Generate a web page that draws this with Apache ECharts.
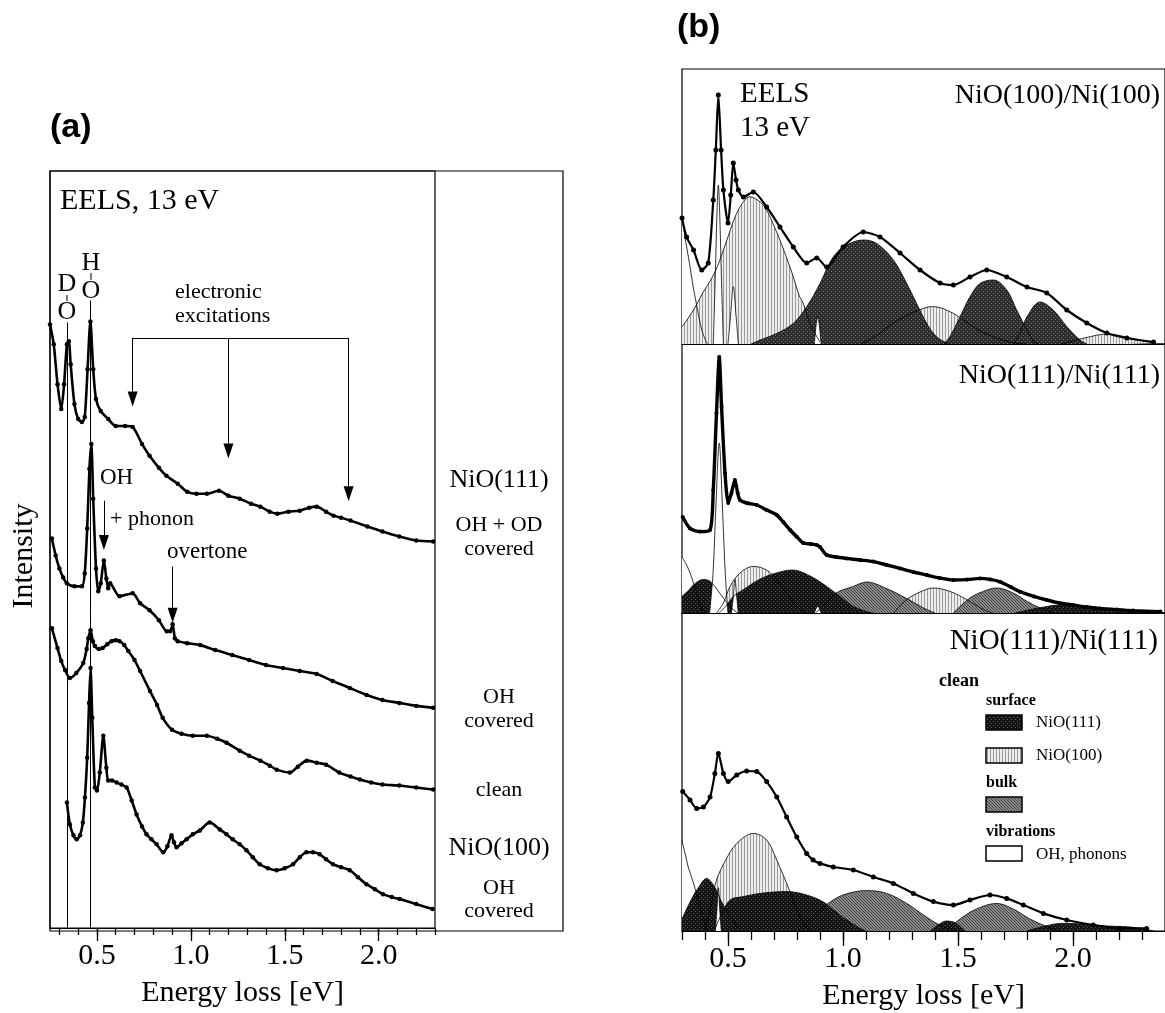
<!DOCTYPE html>
<html>
<head>
<meta charset="utf-8">
<script src="https://cdn.jsdelivr.net/npm/echarts@6/dist/echarts.min.js"></script>
<style>
  html, body { margin: 0; padding: 0; background: #fff; }
  #main { width: 1165px; height: 1013px; }
</style>
</head>
<body>
<div id="main"></div>
<script>
// ---- panel (a): EELS spectra, [energy loss eV, intensity arb. units] ----
var ohOdNiO111 = [[0.25,151.5],[0.27,146.5],[0.29,136.5],[0.31,130.25],[0.325,136.5],[0.34,146.5],[0.35,147.25],[0.36,141.5],[0.38,131.5],[0.40,127.75],[0.42,127],[0.435,128.25],[0.45,140.25],[0.465,152.25],[0.48,140.25],[0.495,132.75],[0.52,129.75],[0.56,127.75],[0.60,126],[0.65,126],[0.69,125.75],[0.74,121.5],[0.78,118.5],[0.83,115.5],[0.87,113.5],[0.93,111.5],[0.98,109.5],[1.03,109],[1.085,109],[1.15,109.75],[1.20,108.5],[1.26,107.75],[1.32,106.5],[1.37,105.75],[1.42,104.5],[1.46,104],[1.52,104.5],[1.58,104.75],[1.63,105.5],[1.67,105.75],[1.72,104.5],[1.76,103.5],[1.80,103],[1.85,102.25],[1.94,100.75],[2.02,99.5],[2.11,98.25],[2.20,97.25],[2.29,97]];
var ohNiO111 = [[0.26,97.75],[0.28,93.5],[0.30,90.25],[0.32,88],[0.34,86.5],[0.38,85.75],[0.42,85.75],[0.435,89],[0.448,100.25],[0.46,115.25],[0.47,121.5],[0.48,107.75],[0.495,90.25],[0.507,84.5],[0.52,86.5],[0.537,92.25],[0.55,87.75],[0.56,85.25],[0.57,86.5],[0.62,83.25],[0.69,84],[0.73,81.5],[0.78,79.75],[0.83,77.25],[0.872,74.5],[0.89,74.5],[0.903,76.25],[0.915,72.75],[0.93,72],[0.98,71.5],[1.05,71],[1.13,69.75],[1.22,68.5],[1.31,67.25],[1.40,66],[1.49,65.25],[1.58,64.5],[1.67,63.75],[1.755,62],[1.846,60.25],[1.936,58.5],[2.02,57.25],[2.11,56.5],[2.20,55.75],[2.29,55.25]];
var cleanNiO111 = [[0.26,75.25],[0.29,70.25],[0.31,67],[0.33,64.75],[0.356,62.75],[0.39,64],[0.427,66.5],[0.445,70],[0.454,72.75],[0.466,74.75],[0.478,72],[0.489,70.75],[0.51,70],[0.53,70.25],[0.555,71.25],[0.578,72],[0.60,72.25],[0.62,72],[0.645,71],[0.667,69.5],[0.70,67.25],[0.73,64.5],[0.782,59.5],[0.82,56],[0.85,52.75],[0.90,49.75],[0.95,48.75],[1.01,48.25],[1.085,48.25],[1.14,47.5],[1.19,46.5],[1.26,44.5],[1.31,43.25],[1.37,42],[1.42,40.75],[1.457,39.75],[1.527,39],[1.57,40.5],[1.617,42],[1.67,41.5],[1.72,41],[1.79,39],[1.85,38],[1.90,37.25],[1.96,36.5],[2.02,36],[2.11,35.75],[2.20,35.25],[2.29,34.75]];
var ohNiO100 = [[0.34,31.5],[0.356,26],[0.375,23.25],[0.392,22.25],[0.41,23.25],[0.425,26.5],[0.436,32.75],[0.448,42.75],[0.458,56.5],[0.466,65.25],[0.475,52.75],[0.489,35.25],[0.50,34.5],[0.515,39],[0.534,48.25],[0.55,40.25],[0.56,37],[0.58,37],[0.605,36.5],[0.63,36],[0.658,35.25],[0.685,32],[0.711,28.5],[0.74,25.5],[0.764,23.5],[0.79,22.25],[0.818,21],[0.853,19],[0.875,20.5],[0.897,23.25],[0.91,21.5],[0.924,20.25],[0.95,21.25],[0.977,22.25],[1.01,23.5],[1.048,24.5],[1.10,26.5],[1.154,24.75],[1.19,23.5],[1.223,22.25],[1.26,21],[1.296,19.5],[1.33,17.75],[1.367,16],[1.41,15],[1.456,14.5],[1.50,15],[1.544,16],[1.58,17.75],[1.615,19],[1.65,19],[1.686,18.5],[1.72,17.25],[1.757,16],[1.80,15.25],[1.846,14.5],[1.89,12.75],[1.935,11],[1.98,9.75],[2.023,8.5],[2.07,7.75],[2.112,7.25],[2.20,6],[2.287,4.75]];

// ---- panel (b): measured spectra and fitted components ----
var b1Meas = [[0.30,63],[0.32,53.5],[0.35,47],[0.386,37],[0.414,40.5],[0.436,72],[0.447,97],[0.458,124.5],[0.47,97],[0.48,77],[0.50,60.5],[0.512,74.5],[0.523,90.5],[0.535,82],[0.545,77],[0.567,73.5],[0.61,76],[0.668,68.5],[0.726,58.5],[0.784,48.5],[0.842,40.5],[0.886,43],[0.929,38.5],[1.00,48.5],[1.088,56],[1.161,53.5],[1.248,45.5],[1.335,37],[1.422,30.5],[1.48,29.5],[1.552,33.5],[1.625,37],[1.712,33.5],[1.80,28.5],[1.886,25.5],[1.973,17],[2.06,10.5],[2.147,5.5],[2.234,3],[2.35,1]];
var b1Tail = [[0.30,63.6],[0.315,52],[0.333,40],[0.348,29],[0.362,20.5],[0.376,12],[0.39,5.5],[0.41,0]];
var b1Oh = [[0.436,0],[0.445,35],[0.452,65],[0.458,79.5],[0.464,65],[0.471,35],[0.48,0]];
var b1Phonon = [[0.50,0],[0.511,14],[0.523,28.7],[0.535,14],[0.545,0]];
var b1Overtone = [[0.875,0],[0.89,13.6],[0.905,0]];
var b1Surf100a = [[0.30,8.5],[0.35,17],[0.39,25.5],[0.43,33],[0.46,40.5],[0.50,53.6],[0.545,67],[0.596,73.6],[0.64,71],[0.668,67],[0.70,59],[0.726,52],[0.755,43],[0.784,33.6],[0.81,24],[0.827,20.5],[0.85,12],[0.87,7],[0.90,1]];
var b1Surf100b = [[1.08,0],[1.15,4.5],[1.22,10.5],[1.31,16],[1.39,18.7],[1.48,15.3],[1.57,8.3],[1.65,3.7],[1.74,0.6],[1.80,0]];
var b1Surf100c = [[1.95,0],[2.05,3],[2.15,5],[2.25,3],[2.35,0.5]];
var b1BulkA = [[0.60,0],[0.64,2],[0.712,5.3],[0.784,10.3],[0.842,18.6],[0.90,30.3],[0.958,43.6],[1.016,49.5],[1.088,52],[1.146,50.3],[1.219,42],[1.277,30.3],[1.32,20.3],[1.364,10.3],[1.407,3.6],[1.46,0]];
var b1BulkB = [[1.44,0],[1.465,3.7],[1.509,13.6],[1.552,23.6],[1.596,30.3],[1.654,32],[1.712,27],[1.755,17],[1.80,7],[1.83,1],[1.85,0]];
var b1BulkC = [[1.74,0],[1.77,5.5],[1.80,13.6],[1.857,21],[1.914,17],[1.973,8.7],[2.03,2],[2.06,0]];

var b2Meas = [[0.303,48],[0.335,42.3],[0.378,40.7],[0.422,41.5],[0.436,61.5],[0.45,100],[0.462,128],[0.472,103],[0.487,70],[0.501,55],[0.515,60],[0.53,66.5],[0.542,60],[0.552,56.5],[0.581,55],[0.625,54],[0.668,51.5],[0.712,49],[0.74,45.5],[0.77,41.5],[0.80,38],[0.827,35],[0.86,34.5],[0.886,34],[0.90,33],[0.929,29],[0.97,28],[1.016,27.3],[1.075,26.5],[1.132,25.7],[1.19,24],[1.248,22.3],[1.305,20.5],[1.364,19],[1.42,17.5],[1.48,16.5],[1.54,16.7],[1.596,17.3],[1.64,16.8],[1.683,15.6],[1.73,13],[1.77,10.6],[1.83,8.3],[1.886,6.5],[1.94,5],[2.0,4],[2.06,3],[2.117,2.3],[2.19,1.7],[2.262,1.2],[2.38,0.7]];
var b2Tail = [[0.30,28],[0.32,24],[0.335,20],[0.35,15],[0.364,10],[0.375,5.5],[0.386,1.5],[0.395,0]];
var b2Surf111a = [[0.30,8.3],[0.33,11.5],[0.349,14],[0.37,15.8],[0.39,16.7],[0.41,16.5],[0.425,15.6],[0.445,13],[0.47,9],[0.50,4.5],[0.53,1],[0.55,0]];
var b2Oh = [[0.42,0],[0.435,20],[0.448,55],[0.462,85],[0.475,55],[0.488,20],[0.50,0]];
var b2Phonon = [[0.515,0],[0.523,8],[0.53,16.7],[0.538,8],[0.545,0]];
var b2Overtone = [[0.875,0],[0.89,3.3],[0.905,0]];
var b2Surf100a = [[0.45,0],[0.48,5],[0.509,13.3],[0.552,20],[0.61,23.3],[0.668,21.5],[0.71,16.7],[0.755,10],[0.80,3.3],[0.84,0]];
var b2Surf111b = [[0.46,0],[0.49,3.3],[0.523,8.3],[0.567,11.7],[0.64,17],[0.71,20],[0.78,21.5],[0.857,18.5],[0.929,13.3],[0.987,8.3],[1.045,3.3],[1.10,0.8],[1.13,0]];
var b2BulkA = [[0.88,0],[0.93,5],[0.97,10],[1.045,13.3],[1.103,15.5],[1.19,12.2],[1.277,7.2],[1.35,2.5],[1.40,0]];
var b2Surf100b = [[1.22,0],[1.277,6.7],[1.335,10.5],[1.393,12.5],[1.465,10.8],[1.538,6.7],[1.61,1.7],[1.65,0]];
var b2BulkB = [[1.48,0],[1.552,7.5],[1.61,10.8],[1.668,12.5],[1.74,10],[1.80,5.8],[1.857,2.5],[1.92,0]];
var b2Surf111c = [[1.75,0],[1.85,2.5],[1.95,4],[2.05,3],[2.15,1.5],[2.30,0.5],[2.40,0]];

var b3Meas = [[0.303,69.7],[0.335,65.5],[0.364,61.3],[0.393,62],[0.422,67],[0.443,78.8],[0.458,88.8],[0.48,78.8],[0.501,74.7],[0.538,78],[0.581,80],[0.625,79.7],[0.668,74.7],[0.712,67],[0.755,57],[0.799,47],[0.842,38.8],[0.87,35.5],[0.90,33.8],[0.958,32],[1.045,30.5],[1.132,27],[1.219,23.8],[1.306,18.8],[1.393,14.7],[1.48,13],[1.552,15.5],[1.639,18],[1.712,16.3],[1.784,13],[1.871,8.8],[1.973,5.5],[2.088,3],[2.204,1.3],[2.32,1.3]];
var b3Tail = [[0.30,45],[0.315,38],[0.327,32],[0.35,24],[0.37,15.5],[0.39,7.2],[0.41,0]];
var b3Surf100 = [[0.40,0],[0.43,15],[0.45,25.5],[0.49,35.5],[0.538,43.8],[0.61,48.8],[0.668,45.5],[0.712,35.5],[0.755,23.8],[0.784,15.5],[0.813,7.2],[0.84,2],[0.86,0]];
var b3BulkA = [[0.80,0],[0.87,7],[0.93,13.3],[1.0,18],[1.103,20.2],[1.19,18.8],[1.277,13.8],[1.35,8],[1.42,3],[1.48,0.5],[1.52,0]];
var b3Surf111a = [[0.30,6],[0.335,14.5],[0.37,21.5],[0.407,26.3],[0.443,21.8],[0.47,15],[0.50,9],[0.53,4],[0.56,0]];
var b3Surf111b = [[0.44,0],[0.47,8],[0.509,15.5],[0.567,17.2],[0.64,18.8],[0.755,19.7],[0.842,18],[0.915,14.5],[0.958,10.5],[1.016,5.5],[1.074,1.3],[1.10,0]];
var b3Oh = [[0.445,0],[0.452,11],[0.458,21.7],[0.464,11],[0.471,0]];
var b3Surf111c = [[1.38,0],[1.42,3.5],[1.45,5],[1.49,4],[1.53,0]];
var b3BulkB = [[1.45,0],[1.509,6],[1.58,11],[1.668,13.8],[1.74,11],[1.813,6],[1.886,2.2],[1.94,0]];
var b3Surf111d = [[1.80,0],[1.88,2.5],[1.95,3.8],[2.05,3.5],[2.15,2.5],[2.25,2],[2.33,0.5],[2.35,0]];

// axis ticks
var minorTicks = [0.3,0.4,0.5,0.6,0.7,0.8,0.9,1.0,1.1,1.2,1.3,1.4,1.5,1.6,1.7,1.8,1.9,2.0,2.1,2.2,2.3];
var majorTicks = [0.5,1.0,1.5,2.0];
// vibration reference lines in (a): D-O and H-O
var refLines = [[0.34,152],[0.466,157.5]];

var serif = '"Liberation Serif", "Times New Roman", serif';
var sans = '"Liberation Sans", Arial, sans-serif';

function pattern(bg, fg, kind, n) {
  var c = document.createElement('canvas');
  c.width = c.height = n;
  var g = c.getContext('2d');
  g.fillStyle = bg; g.fillRect(0, 0, n, n);
  g.fillStyle = fg;
  if (kind === 'v') { g.fillRect(0, 0, 1, n); }
  else if (kind === 'd') { for (var i = 0; i < n; i++) g.fillRect(i, i, 1, 1); }
  else { g.fillRect(1, 1, 1, 1); g.fillRect(3, 3, 1, 1); }
  return { image: c, repeat: 'repeat' };
}
var fillDark = pattern('#141414', '#5e5e5e', 's', 4);
var fillLight = pattern('#ededed', '#9c9c9c', 'v', 3);
var fillBulk = pattern('#8c8c8c', '#404040', 'd', 3);
var fillBulkDark = pattern('#2c2c2c', '#7a7a7a', 's', 4);

var chart = echarts.init(document.getElementById('main'));

function xax(grid, min, max, ticks, len, labels, name) {
  return {
    type: 'value', gridIndex: grid, min: min, max: max, position: 'bottom',
    axisLine: { show: !len || !!labels, lineStyle: { color: '#000', width: 1.2 } },
    axisTick: { show: !!len, customValues: ticks, length: len || 0, lineStyle: { color: '#000', width: 1.3 } },
    axisLabel: labels ? { customValues: labels, formatter: function (v) { return v.toFixed(1); },
      fontSize: 30, fontFamily: serif, color: '#000', margin: 13 } : { show: false },
    splitLine: { show: false },
    name: name || '', nameLocation: 'middle', nameGap: 50,
    nameTextStyle: { fontSize: 30, fontFamily: serif, color: '#000' }
  };
}
function yax(grid, max) {
  return { type: 'value', gridIndex: grid, min: 0, max: max, show: false };
}

function spectrum(data, xi, yi, width, dot) {
  return { type: 'line', xAxisIndex: xi, yAxisIndex: yi, data: data, smooth: 0.25,
    symbol: 'circle', symbolSize: dot, showSymbol: true, z: 5, silent: true,
    lineStyle: { color: '#000', width: width }, itemStyle: { color: '#000' } };
}
function comp(data, xi, yi, fill) {
  return { type: 'line', xAxisIndex: xi, yAxisIndex: yi, data: data, smooth: 0.35,
    showSymbol: false, z: 2, silent: true,
    lineStyle: { color: '#000', width: 0.8 }, areaStyle: { color: fill, opacity: 1 } };
}

function arrow(x, y0, y1) {
  return [{ coord: [x, y0], symbol: 'none' }, { coord: [x, y1], symbol: 'triangle', symbolSize: [10, 15] }];
}

var series = [
  spectrum(ohOdNiO111, 0, 0, 2.6, 4.5),
  spectrum(ohNiO111, 0, 0, 2.6, 4.5),
  spectrum(cleanNiO111, 0, 0, 2.6, 4.5),
  spectrum(ohNiO100, 0, 0, 2.6, 4.5),
  // b1
  comp(b1Tail, 2, 1, '#fff'),
  comp(b1Surf100a, 2, 1, fillLight),
  comp(b1Surf100b, 2, 1, fillLight),
  comp(b1Surf100c, 2, 1, fillLight),
  comp(b1BulkA, 2, 1, fillBulkDark),
  comp(b1BulkB, 2, 1, fillBulkDark),
  comp(b1BulkC, 2, 1, fillBulkDark),
  comp(b1Oh, 2, 1, '#fff'),
  comp(b1Phonon, 2, 1, '#fff'),
  comp(b1Overtone, 2, 1, '#fff'),
  spectrum(b1Meas, 2, 1, 2.2, 5),
  // b2
  comp(b2Tail, 3, 2, '#fff'),
  comp(b2Surf100a, 3, 2, fillLight),
  comp(b2Surf100b, 3, 2, fillLight),
  comp(b2BulkA, 3, 2, fillBulk),
  comp(b2BulkB, 3, 2, fillBulk),
  comp(b2Surf111a, 3, 2, fillDark),
  comp(b2Surf111b, 3, 2, fillDark),
  comp(b2Surf111c, 3, 2, fillDark),
  comp(b2Oh, 3, 2, '#fff'),
  comp(b2Phonon, 3, 2, '#fff'),
  comp(b2Overtone, 3, 2, '#fff'),
  spectrum(b2Meas, 3, 2, 3.4, 4),
  // b3
  comp(b3Tail, 4, 3, '#fff'),
  comp(b3Surf100, 4, 3, fillLight),
  comp(b3BulkA, 4, 3, fillBulk),
  comp(b3BulkB, 4, 3, fillBulk),
  comp(b3Surf111a, 4, 3, fillDark),
  comp(b3Surf111b, 4, 3, fillDark),
  comp(b3Surf111c, 4, 3, fillDark),
  comp(b3Surf111d, 4, 3, fillDark),
  comp(b3Oh, 4, 3, '#fff'),
  spectrum(b3Meas, 4, 3, 2.2, 5)
];

// reference lines and arrows in (a)
series[0].markLine = {
  silent: true, symbol: 'none', animation: false,
  label: { show: false },
  lineStyle: { color: '#000', width: 1, type: 'solid' },
  data: refLines.map(function (r) { return [{ coord: [r[0], 0] }, { coord: [r[0], r[1]] }]; }).concat([
    [{ coord: [0.69, 148.1], symbol: 'none' }, { coord: [1.84, 148.1], symbol: 'none' }],
    arrow(0.69, 148.1, 132.75),
    arrow(1.2, 148.1, 119.75),
    arrow(1.84, 148.1, 109),
    arrow(0.537, 107.25, 96.75),
    arrow(0.903, 90.75, 78.5)
  ])
};

function txt(x, y, text, size, align, extra) {
  var s = { text: text, font: size + 'px ' + serif, fill: '#000', align: align || 'left', verticalAlign: 'middle' };
  return Object.assign({ type: 'text', x: x, y: y, style: s, z: 20 }, extra || {});
}
function bold(x, y, text, size, family) {
  return { type: 'text', x: x, y: y, z: 20,
    style: { text: text, font: 'bold ' + size + 'px ' + family, fill: '#000', align: 'left', verticalAlign: 'middle' } };
}
function box(y, fill) {
  return { type: 'rect', shape: { x: 986, y: y, width: 36, height: 15 }, z: 20,
    style: { fill: fill, stroke: '#000', lineWidth: 1.5 } };
}
function bond(x, y0, y1) {
  return { type: 'line', shape: { x1: x, y1: y0, x2: x, y2: y1 }, z: 20, style: { stroke: '#000', lineWidth: 1 } };
}

var graphics = [
  bold(50, 128, '(a)', 34, sans),
  bold(677, 28, '(b)', 34, sans),
  { type: 'rect', shape: { x: 50, y: 171, width: 513, height: 760 }, z: 0,
    style: { fill: 'none', stroke: '#000', lineWidth: 1.2 } },
  txt(60, 201, 'EELS, 13 eV', 30),
  txt(24, 556, 'Intensity', 30, 'center', { rotation: Math.PI / 2 }),
  txt(67, 284, 'D', 26, 'center'), bond(67, 295, 301), txt(67, 312, 'O', 26, 'center'),
  txt(91, 263, 'H', 26, 'center'), bond(91, 273, 280), txt(91, 291, 'O', 26, 'center'),
  txt(175, 292, 'electronic', 22), txt(175, 316, 'excitations', 22),
  txt(100, 478, 'OH', 23), txt(110, 519, '+ phonon', 22), txt(167, 552, 'overtone', 23),
  txt(499, 480, 'NiO(111)', 26, 'center'),
  txt(499, 525, 'OH + OD', 22, 'center'), txt(499, 549, 'covered', 22, 'center'),
  txt(499, 697, 'OH', 22, 'center'), txt(499, 721, 'covered', 22, 'center'),
  txt(499, 790, 'clean', 22, 'center'),
  txt(499, 848, 'NiO(100)', 26, 'center'),
  txt(499, 888, 'OH', 22, 'center'), txt(499, 911, 'covered', 22, 'center'),
  txt(740, 94, 'EELS', 29), txt(740, 128, '13 eV', 29),
  txt(1160, 96, 'NiO(100)/Ni(100)', 28, 'right'),
  txt(1160, 376, 'NiO(111)/Ni(111)', 28, 'right'),
  txt(1158, 641, 'NiO(111)/Ni(111)', 29, 'right'),
  bold(939, 681, 'clean', 18, serif),
  bold(986, 701, 'surface', 16, serif),
  box(715, fillDark), txt(1036, 723, 'NiO(111)', 17),
  box(748, fillLight), txt(1036, 756, 'NiO(100)', 17),
  bold(986, 783, 'bulk', 16, serif),
  box(797, fillBulk),
  bold(986, 832, 'vibrations', 16, serif),
  box(846, '#fff'), txt(1036, 855, 'OH, phonons', 17)
];

var gridStyle = { show: true, borderColor: '#000', borderWidth: 1.2, backgroundColor: 'transparent' };

chart.setOption({
  animation: false,
  backgroundColor: '#fff',
  grid: [
    Object.assign({ left: 50, top: 171, width: 385, height: 760 }, gridStyle),
    Object.assign({ left: 682, top: 69, width: 483, height: 275 }, gridStyle),
    Object.assign({ left: 682, top: 344, width: 483, height: 269 }, gridStyle),
    Object.assign({ left: 682, top: 613, width: 483, height: 318 }, gridStyle)
  ],
  xAxis: [
    xax(0, 0.25, 2.3, minorTicks, 7, majorTicks, 'Energy loss [eV]'),
    xax(0, 0.25, 2.3, majorTicks, 13, null),
    xax(1, 0.3, 2.4, null, 0, null),
    xax(2, 0.3, 2.4, null, 0, null),
    xax(3, 0.3, 2.4, minorTicks, 9, majorTicks, 'Energy loss [eV]'),
    xax(3, 0.3, 2.4, majorTicks, 15, null)
  ],
  yAxis: [yax(0, 190), yax(1, 137.5), yax(2, 134.5), yax(3, 159)],
  series: series,
  graphic: graphics
});
</script>
</body>
</html>
